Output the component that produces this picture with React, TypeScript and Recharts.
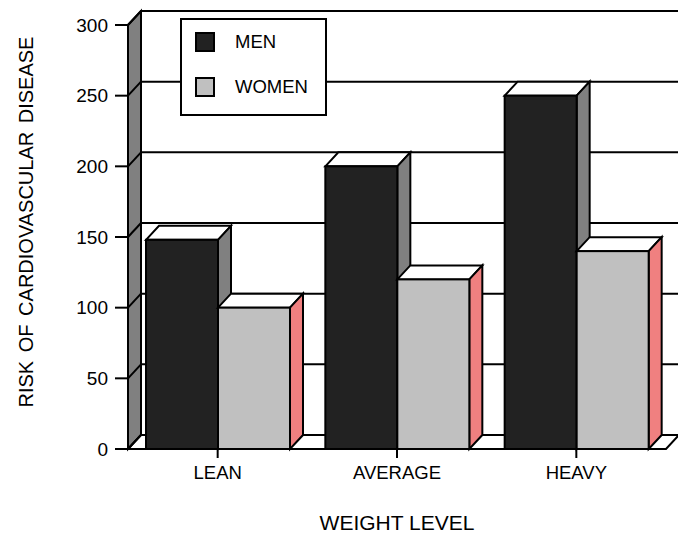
import React from 'react';
import { BarChart, Bar, XAxis, YAxis, CartesianGrid, Legend } from 'recharts';

const CATEGORIES = ['LEAN', 'AVERAGE', 'HEAVY'];
const MEN = [148, 200, 250];
const WOMEN = [100, 120, 140];
const Y_TICKS = [0, 50, 100, 150, 200, 250, 300];

const data = CATEGORIES.map((name, i) => ({ name, men: MEN[i], women: WOMEN[i] }));

// depth offset of the fake 3d box
const DX = 13;
const DY = -14;
const FONT = '"Liberation Sans", Arial, sans-serif';

const W = 678;
const H = 533;
const MARGIN = { top: 25, right: 12, left: 48, bottom: 20 };
const Y_AXIS_W = 80;
const X_AXIS_H = 64;

const pts = (arr: number[][]) => arr.map(p => p.join(',')).join(' ');

// walls + floor drawn with the first grid line, then every grid line on back + left wall
const renderGridLine = (p: any) => {
  const { x1, x2, y1, index } = p;
  const top = typeof p.y === 'number' ? p.y : MARGIN.top;
  const h = typeof p.height === 'number' ? p.height : H - MARGIN.top - MARGIN.bottom - X_AXIS_H;
  const bottom = top + h;
  return (
    <g key={`grid-${index}`}>
      {index === 0 && (
        <g>
          <rect x={x1 + DX} y={top + DY} width={x2 - x1} height={bottom - top} fill="#fff" stroke="#000" strokeWidth={2} />
          <polygon
            points={pts([[x1, top], [x1 + DX, top + DY], [x1 + DX, bottom + DY], [x1, bottom]])}
            fill="#808080"
            stroke="#000"
            strokeWidth={2}
          />
          <polygon
            points={pts([[x1, bottom], [x2, bottom], [x2 + DX, bottom + DY], [x1 + DX, bottom + DY]])}
            fill="#fff"
            stroke="#000"
            strokeWidth={2}
          />
        </g>
      )}
      <line x1={x1 + DX} y1={y1 + DY} x2={x2 + DX} y2={y1 + DY} stroke="#000" strokeWidth={2} />
      <line x1={x1} y1={y1} x2={x1 + DX} y2={y1 + DY} stroke="#000" strokeWidth={2} />
    </g>
  );
};

const bar3d = (side: string) => (p: any) => {
  const { x, y, width: w, height: h, fill } = p;
  return (
    <g>
      <polygon
        points={pts([[x, y], [x + DX, y + DY], [x + w + DX, y + DY], [x + w, y]])}
        fill="#fff"
        stroke="#000"
        strokeWidth={2}
      />
      <polygon
        points={pts([[x + w, y], [x + w + DX, y + DY], [x + w + DX, y + h + DY], [x + w, y + h]])}
        fill={side}
        stroke="#000"
        strokeWidth={2}
      />
      <rect x={x} y={y} width={w} height={h} fill={fill} stroke="#000" strokeWidth={2} />
    </g>
  );
};

const LegendBox = ({ payload }: any) => (
  <div
    style={{
      position: 'relative',
      width: 147,
      height: 98,
      boxSizing: 'border-box',
      border: '2px solid #000',
      background: '#fff',
      fontFamily: FONT,
      fontSize: 18.5,
      color: '#000',
    }}
  >
    {(payload || []).map((entry: any, i: number) => (
      <div key={entry.value}>
        <div
          style={{
            position: 'absolute',
            left: 13,
            top: 12 + i * 45,
            width: 20,
            height: 20,
            boxSizing: 'border-box',
            border: '2px solid #000',
            background: entry.color,
          }}
        />
        <div style={{ position: 'absolute', left: 53, top: 10 + i * 45, lineHeight: '24px' }}>{entry.value}</div>
      </div>
    ))}
  </div>
);

export default function App() {
  return (
    <div style={{ position: 'absolute', left: 0, top: 0, fontFamily: FONT, background: '#fff' }}>
      <BarChart width={W} height={H} data={data} margin={MARGIN} barSize={72} barGap={0}>
        <CartesianGrid horizontal={renderGridLine} vertical={false} />
        <XAxis
          dataKey="name"
          height={X_AXIS_H}
          axisLine={{ stroke: '#000', strokeWidth: 2 }}
          tickLine={{ stroke: '#000', strokeWidth: 2 }}
          tickSize={9}
          tickMargin={8}
          tick={{ fill: '#000', fontSize: 18.5 }}
          label={(props: any) => {
            const vb = props.viewBox || { x: 128, y: 449, width: 538 };
            return (
              <text x={vb.x + vb.width / 2} y={vb.y + 81} textAnchor="middle" fill="#000" fontSize={21}>
                WEIGHT LEVEL
              </text>
            );
          }}
        />
        <YAxis
          domain={[0, 300]}
          ticks={Y_TICKS}
          width={Y_AXIS_W}
          axisLine={{ stroke: '#000', strokeWidth: 2 }}
          tickLine={{ stroke: '#000', strokeWidth: 2 }}
          tickSize={13}
          tickMargin={7}
          tick={{ fill: '#000', fontSize: 19 }}
          label={() => {
            const cx = 26;
            const cy = 222;
            return (
              <text
                x={cx}
                y={cy}
                transform={`rotate(-90, ${cx}, ${cy})`}
                textAnchor="middle"
                dominantBaseline="central"
                fill="#000"
                fontSize={20}
                style={{ wordSpacing: 3 }}
              >
                RISK OF CARDIOVASCULAR DISEASE
              </text>
            );
          }}
        />
        <Legend
          layout="vertical"
          align="center"
          verticalAlign="middle"
          content={<LegendBox />}
          wrapperStyle={{ position: 'absolute', left: 180, top: 18, width: 147, height: 98 }}
        />
        <Bar dataKey="men" name="MEN" fill="#222222" shape={bar3d('#808080')} isAnimationActive={false} />
        <Bar dataKey="women" name="WOMEN" fill="#c0c0c0" shape={bar3d('#f08080')} isAnimationActive={false} />
      </BarChart>
    </div>
  );
}
